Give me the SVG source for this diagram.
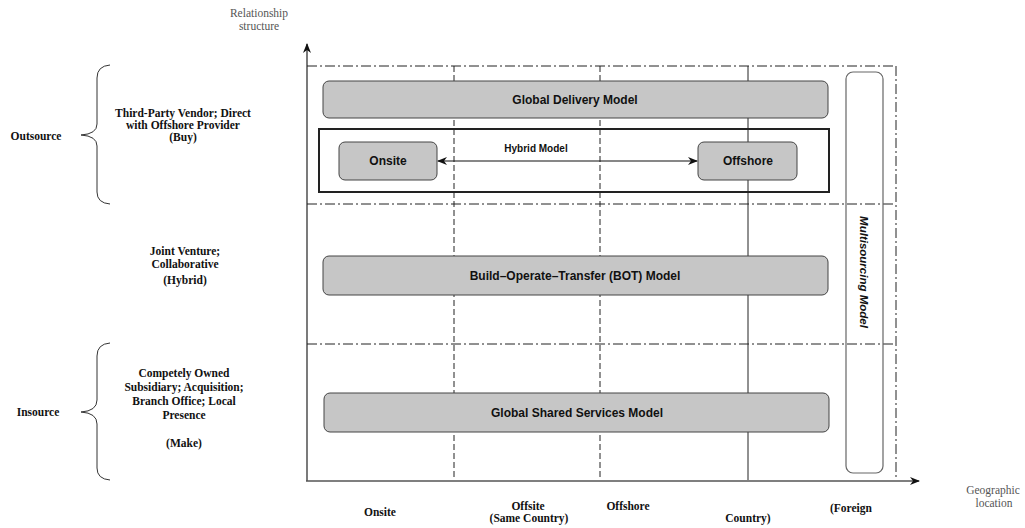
<svg xmlns="http://www.w3.org/2000/svg" width="1025" height="528" viewBox="0 0 1025 528">
<style>
.lbl{font-family:"Liberation Serif","Times New Roman",serif;font-weight:bold;font-size:11.5px;fill:#111;text-anchor:middle}
.ax{font-family:"Liberation Serif","Times New Roman",serif;font-size:11.5px;fill:#555;text-anchor:middle}
.box{fill:#c6c6c6;stroke:#444;stroke-width:1}
.bt{font-family:"Liberation Sans",Arial,sans-serif;font-weight:bold;font-size:12px;fill:#111;text-anchor:middle}
.grid{fill:none;stroke:#222;stroke-width:1}
.dd{stroke-dasharray:10 3 2 3}
.dsh{stroke-dasharray:6 3}
.brace{fill:none;stroke:#333;stroke-width:1}
</style>
<defs>
<marker id="ah" viewBox="0 0 10 8" refX="9" refY="4" markerWidth="10" markerHeight="8" markerUnits="userSpaceOnUse" orient="auto-start-reverse">
<path d="M0,0 L10,4 L0,8 L3,4 z" fill="#111"/>
</marker>
</defs>
<rect width="1025" height="528" fill="#fff"/>

<g id="grid">
<line class="grid dd" x1="307" y1="66" x2="896" y2="66"/>
<line class="grid dd" x1="307" y1="204" x2="896" y2="204"/>
<line class="grid dd" x1="307" y1="344" x2="896" y2="344"/>
<line class="grid dd" x1="896" y1="66" x2="896" y2="480"/>
<line class="grid dsh" x1="454" y1="66" x2="454" y2="480"/>
<line class="grid dsh" x1="600" y1="66" x2="600" y2="480"/>
<line class="grid" x1="748" y1="66" x2="748" y2="480"/>
</g>

<g id="axes">
<line x1="307" y1="481" x2="307" y2="44" stroke="#222" stroke-width="1.2" marker-end="url(#ah)"/>
<line x1="306" y1="481" x2="919" y2="481" stroke="#555" stroke-width="1.5" marker-end="url(#ah)"/>
<text class="ax" x="259" y="17">Relationship</text>
<text class="ax" x="259" y="30">structure</text>
<text class="ax" x="993" y="494">Geographic</text>
<text class="ax" x="994" y="507">location</text>
</g>

<g id="outsource">
<path class="brace" d="M110,65 Q97,66 97,78 L97,124 Q97,134 81,135 Q97,136 97,146 L97,192 Q97,203 110,204"/>
<text class="lbl" x="36" y="140">Outsource</text>
<text class="lbl" x="183" y="117">Third-Party Vendor; Direct</text>
<text class="lbl" x="183" y="129">with Offshore Provider</text>
<text class="lbl" x="183" y="141">(Buy)</text>
</g>

<g id="hybrid-row">
<text class="lbl" x="185" y="255">Joint Venture;</text>
<text class="lbl" x="185" y="268">Collaborative</text>
<text class="lbl" x="185" y="284">(Hybrid)</text>
</g>

<g id="insource">
<path class="brace" d="M110,343 Q97,344 97,356 L97,400 Q97,411 81,412 Q97,413 97,424 L97,468 Q97,479 110,480"/>
<text class="lbl" x="38" y="416">Insource</text>
<text class="lbl" x="184" y="377">Competely Owned</text>
<text class="lbl" x="184" y="391">Subsidiary; Acquisition;</text>
<text class="lbl" x="184" y="405">Branch Office; Local</text>
<text class="lbl" x="184" y="419">Presence</text>
<text class="lbl" x="184" y="447">(Make)</text>
</g>

<g id="global-delivery">
<rect class="box" x="323" y="81" width="505" height="37" rx="6"/>
<text class="bt" x="575" y="104">Global Delivery Model</text>
</g>

<g id="hybrid-model">
<rect x="319" y="129" width="510" height="63" fill="none" stroke="#222" stroke-width="2"/>
<text class="bt" x="536" y="152" style="font-size:10px">Hybrid Model</text>
</g>

<g id="onsite">
<rect class="box" x="339" y="142" width="98" height="38" rx="6"/>
<text class="bt" x="388" y="165">Onsite</text>
</g>

<g id="offshore">
<rect class="box" x="698" y="142" width="99" height="38" rx="6"/>
<text class="bt" x="748" y="165">Offshore</text>
</g>

<g id="bot">
<rect class="box" x="323" y="256" width="505" height="39" rx="6"/>
<text class="bt" x="575" y="280">Build–Operate–Transfer (BOT) Model</text>
</g>

<g id="gss">
<rect class="box" x="324" y="393" width="505" height="39" rx="6"/>
<text class="bt" x="577" y="417">Global Shared Services Model</text>
</g>

<g id="multisourcing">
<rect x="846" y="72" width="37" height="401" rx="7" fill="none" stroke="#666" stroke-width="1.2"/>
<text class="bt" x="0" y="0" transform="translate(860,272) rotate(90)" style="font-style:italic;font-size:11.5px">Multisourcing Model</text>
</g>

<g id="connectors">
<line x1="438" y1="161" x2="697" y2="161" stroke="#111" stroke-width="1.2" marker-start="url(#ah)" marker-end="url(#ah)"/>
</g>

<g id="x-labels">
<text class="lbl" x="380" y="516">Onsite</text>
<text class="lbl" x="528" y="510">Offsite</text>
<text class="lbl" x="529" y="522">(Same Country)</text>
<text class="lbl" x="628" y="510">Offshore</text>
<text class="lbl" x="748" y="522">Country)</text>
<text class="lbl" x="851" y="512">(Foreign</text>
</g>
</svg>
